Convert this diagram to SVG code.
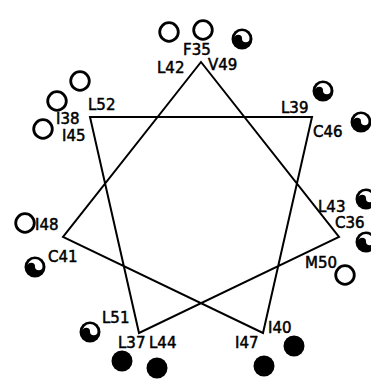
<svg xmlns="http://www.w3.org/2000/svg" xmlns:xlink="http://www.w3.org/1999/xlink" width="371" height="379" viewBox="0 0 371 379">
<style>
.lbl{font-family:"DejaVu Sans","Liberation Sans",sans-serif;font-size:15px;fill:#000;stroke:#000;stroke-width:0.5}
.open{fill:#fff;stroke:#000;stroke-width:2.8}
.solid{fill:#000}
.edge{fill:none;stroke:#000;stroke-width:2;stroke-linejoin:miter}
</style>
<defs>
<g id="half">
<circle r="10.5" fill="#000"/>
<path d="M-7.5,-0.5 A7.5,7.5 0 0 1 7.5,-0.5 A3.75,3.75 0 0 1 0,-0.5 A3.75,3.75 0 0 0 -7.5,-0.5 Z" fill="#fff"/>
</g>
</defs>
<rect width="371" height="379" fill="#fff"/>
<g id="connectors">
<path class="edge" d="M201,62 L339,237 L139,333 L90,117 L312,117 L263,333 L63,237 Z"/>
</g>
<g id="F35"><circle class="open" cx="203" cy="30" r="9.3"/><text class="lbl" x="183" y="55">F35</text></g>
<g id="L42"><circle class="open" cx="169" cy="32" r="9.3"/><text class="lbl" x="157" y="73">L42</text></g>
<g id="V49"><use xlink:href="#half" x="242" y="39"/><text class="lbl" x="208" y="70">V49</text></g>
<g id="L52"><circle class="open" cx="80" cy="81" r="9.3"/><text class="lbl" x="88" y="110">L52</text></g>
<g id="I38"><circle class="open" cx="57" cy="101" r="9.3"/><text class="lbl" x="56" y="124">I38</text></g>
<g id="I45"><circle class="open" cx="43" cy="129" r="9.3"/><text class="lbl" x="62" y="141">I45</text></g>
<g id="L39"><use xlink:href="#half" x="323" y="91"/><text class="lbl" x="281" y="113">L39</text></g>
<g id="C46"><use xlink:href="#half" x="361" y="122"/><text class="lbl" x="313" y="137">C46</text></g>
<g id="I48"><circle class="open" cx="25" cy="223" r="9.3"/><text class="lbl" x="35" y="230">I48</text></g>
<g id="C41"><use xlink:href="#half" x="35" y="267"/><text class="lbl" x="48" y="262">C41</text></g>
<g id="L43"><use xlink:href="#half" x="366" y="199"/><text class="lbl" x="318" y="212">L43</text></g>
<g id="C36"><use xlink:href="#half" x="366" y="242"/><text class="lbl" x="335" y="228">C36</text></g>
<g id="M50"><circle class="open" cx="345" cy="275" r="9.3"/><text class="lbl" x="305" y="268">M50</text></g>
<g id="L51"><use xlink:href="#half" x="90" y="332"/><text class="lbl" x="102" y="323">L51</text></g>
<g id="L37"><circle class="solid" cx="122" cy="361" r="10.5"/><text class="lbl" x="118" y="348">L37</text></g>
<g id="L44"><circle class="solid" cx="157" cy="368" r="10.5"/><text class="lbl" x="149" y="348">L44</text></g>
<g id="I40"><circle class="solid" cx="294" cy="346" r="10.5"/><text class="lbl" x="268" y="333">I40</text></g>
<g id="I47"><circle class="solid" cx="264" cy="366" r="10.5"/><text class="lbl" x="235" y="348">I47</text></g>
</svg>
